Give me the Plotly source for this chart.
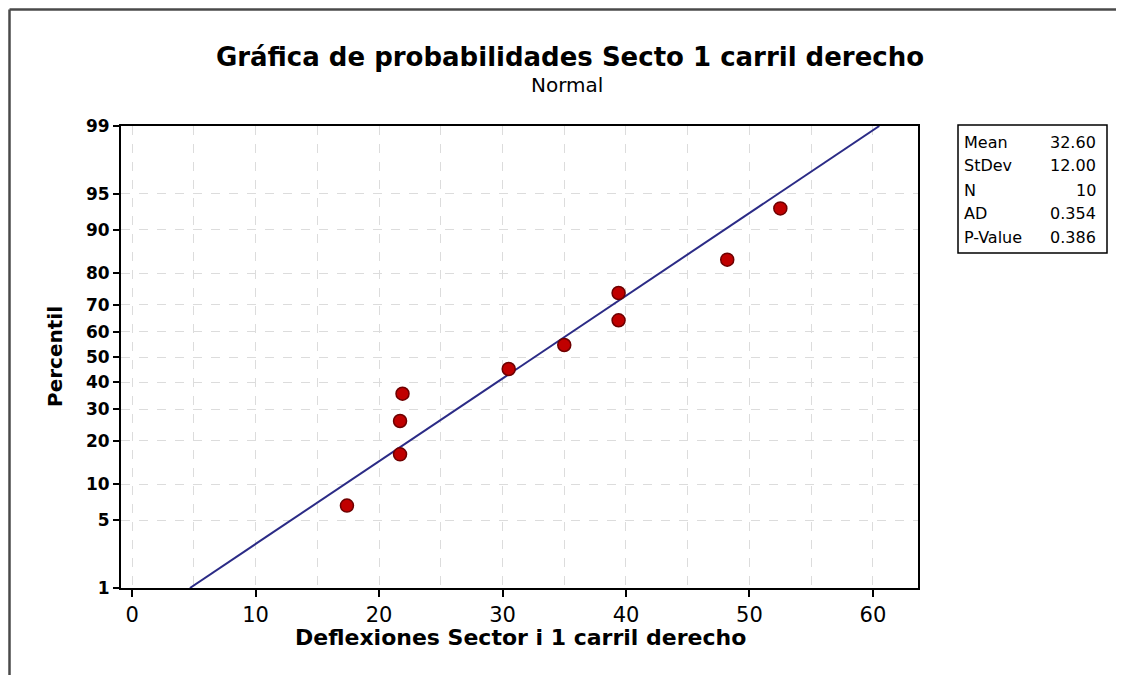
import math
import plotly.graph_objects as go

# ---- data ----
deflexiones = [17.4, 21.7, 21.7, 21.9, 30.5, 35.0, 39.4, 39.4, 48.2, 52.5]
fit_mean = 32.60
fit_stdev = 12.00
stats_labels = ["Mean", "StDev", "N", "AD", "P-Value"]
stats_values = ["32.60", "12.00", "10", "0.354", "0.386"]
y_tick_pcts = [1, 5, 10, 20, 30, 40, 50, 60, 70, 80, 90, 95, 99]
x_tick_vals = [0, 10, 20, 30, 40, 50, 60]


def norm_ppf(p):
    # Acklam's rational approximation of the inverse normal CDF
    a = [-3.969683028665376e+01, 2.209460984245205e+02, -2.759285104469687e+02,
         1.383577518672690e+02, -3.066479806614716e+01, 2.506628277459239e+00]
    b = [-5.447609879822406e+01, 1.615858368580409e+02, -1.556989798598866e+02,
         6.680131188771972e+01, -1.328068155288572e+01]
    c = [-7.784894002430293e-03, -3.223964580411365e-01, -2.400758277161838e+00,
         -2.549671010115819e+00, 4.374664141464968e+00, 2.938163982698783e+00]
    d = [7.784695709041462e-03, 3.224671290700398e-01, 2.445134137142996e+00,
         3.754408661907416e+00]
    plow = 0.02425
    if p < plow:
        q = math.sqrt(-2 * math.log(p))
        return (((((c[0]*q+c[1])*q+c[2])*q+c[3])*q+c[4])*q+c[5]) / \
               ((((d[0]*q+d[1])*q+d[2])*q+d[3])*q+1)
    if p > 1 - plow:
        q = math.sqrt(-2 * math.log(1 - p))
        return -(((((c[0]*q+c[1])*q+c[2])*q+c[3])*q+c[4])*q+c[5]) / \
                ((((d[0]*q+d[1])*q+d[2])*q+d[3])*q+1)
    q = p - 0.5
    r = q * q
    return (((((a[0]*r+a[1])*r+a[2])*r+a[3])*r+a[4])*r+a[5])*q / \
           (((((b[0]*r+b[1])*r+b[2])*r+b[3])*r+b[4])*r+1)


n = len(deflexiones)
xs = sorted(deflexiones)
# median ranks (Benard)
ys = [norm_ppf((i + 1 - 0.3) / (n + 0.4)) for i in range(n)]

# fitted line from 1% to 99%
z_lo, z_hi = norm_ppf(0.01), norm_ppf(0.99)
line_z = [z_lo, z_hi]
line_x = [fit_mean + fit_stdev * z for z in line_z]

OFF = 8  # page body margin
W, H = 1124 - OFF, 675 - OFF
PL, PR, PT, PB = 121, 918, 126, 588  # plot area in page pixels

fig = go.Figure()
fig.add_trace(go.Scatter(x=line_x, y=line_z, mode="lines",
                         line=dict(color="#2b2b86", width=2), hoverinfo="skip"))
fig.add_trace(go.Scatter(x=xs, y=ys, mode="markers",
                         marker=dict(color="#c00000", size=13,
                                     line=dict(color="#6e0000", width=1.5))))

font_main = "DejaVu Sans"

fig.update_layout(
    width=W, height=H,
    paper_bgcolor="white", plot_bgcolor="white",
    showlegend=False,
    margin=dict(l=PL - OFF, r=W - (PR - OFF), t=PT - OFF, b=H - (PB - OFF)),
    title=dict(
        text="<b>Gráfica de probabilidades Secto 1 carril derecho</b>",
        x=(570 - OFF) / W, xanchor="center", xref="container",
        y=1 - (57 - OFF) / H, yanchor="middle", yref="container",
        font=dict(family=font_main, size=26, color="black"),
    ),
)

fig.update_xaxes(
    range=[-0.9, 63.65],
    tickvals=x_tick_vals, ticktext=[str(v) for v in x_tick_vals],
    ticks="outside", ticklen=7, tickwidth=2, tickcolor="black",
    tickfont=dict(family=font_main, size=21, color="black"),
    showline=True, linecolor="black", linewidth=2, mirror=True,
    showgrid=True, gridcolor="#dcdcdc", griddash="dash", gridwidth=1,
    minor=dict(dtick=5, tick0=0, showgrid=True, gridcolor="#dcdcdc",
               griddash="dash", ticks=""),
    zeroline=False,
)

fig.update_yaxes(
    range=[z_lo, z_hi],
    tickvals=[norm_ppf(p / 100) for p in y_tick_pcts],
    ticktext=[str(p) for p in y_tick_pcts],
    ticks="outside", ticklen=6, tickwidth=1.5, tickcolor="black",
    tickfont=dict(family=font_main, size=17, color="black", weight="bold"),
    showline=True, linecolor="black", linewidth=2, mirror=True,
    showgrid=True, gridcolor="#dcdcdc", griddash="dash", gridwidth=1,
    zeroline=False,
)


def px_x(px):
    return (px - PL) / (PR - PL)


def px_y(py):
    return (PB - py) / (PB - PT)


annotations = [
    dict(text="Normal", xref="paper", yref="paper",
         x=px_x(567), y=px_y(85), xanchor="center", yanchor="middle",
         showarrow=False, font=dict(family=font_main, size=20, color="black")),
    dict(text="<b>Percentil</b>", xref="paper", yref="paper",
         x=px_x(55), y=0.5, xanchor="center", yanchor="middle",
         textangle=-90, showarrow=False,
         font=dict(family=font_main, size=20, color="black")),
    dict(text="<b>Deflexiones Sector i 1 carril derecho</b>", xref="paper", yref="paper",
         x=px_x(520), y=px_y(637), xanchor="center", yanchor="middle",
         showarrow=False, font=dict(family=font_main, size=22, color="black")),
]

box_row_px = [142, 166, 190, 213, 237]
for lab, val, ypx in zip(stats_labels, stats_values, box_row_px):
    yp = px_y(ypx)
    annotations.append(dict(text=lab, xref="paper", yref="paper",
                            x=px_x(962), y=yp, xanchor="left", yanchor="middle",
                            showarrow=False,
                            font=dict(family=font_main, size=16, color="black")))
    annotations.append(dict(text=val, xref="paper", yref="paper",
                            x=px_x(1098), y=yp, xanchor="right", yanchor="middle",
                            showarrow=False,
                            font=dict(family=font_main, size=16, color="black")))
fig.update_layout(annotations=annotations)

FX, FY = OFF + 1.5, OFF + 1.5  # outer frame (as close to the page corner as possible)
shapes = [
    # stats box
    dict(type="rect", xref="paper", yref="paper",
         x0=px_x(958), x1=px_x(1107), y0=px_y(253), y1=px_y(125),
         line=dict(color="black", width=1.5), fillcolor="rgba(0,0,0,0)"),
    # outer frame (top and left)
    dict(type="line", xref="paper", yref="paper",
         x0=px_x(FX), x1=px_x(1124), y0=px_y(FY), y1=px_y(FY),
         line=dict(color="#4a4a4a", width=2.5)),
    dict(type="line", xref="paper", yref="paper",
         x0=px_x(FX), x1=px_x(FX), y0=px_y(FY), y1=px_y(675),
         line=dict(color="#4a4a4a", width=2.5)),
]
fig.update_layout(shapes=shapes)

fig.write_html("out.html")
